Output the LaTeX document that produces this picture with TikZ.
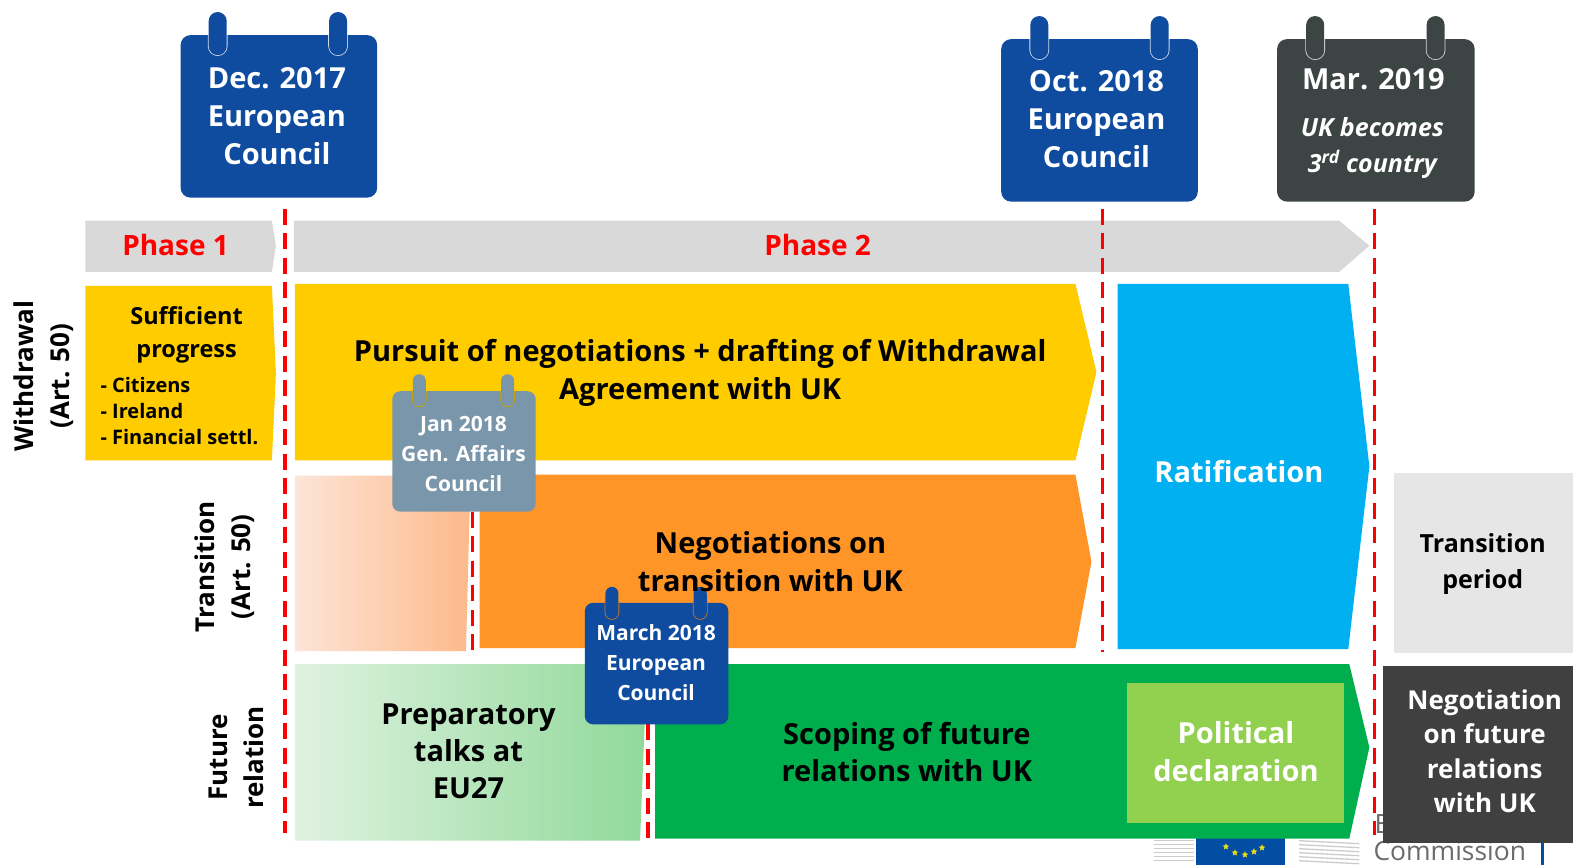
\documentclass[tikz,border=0pt]{standalone}
\usepackage{fontspec}
\setmainfont{Open Sans}
\usetikzlibrary{shapes.geometric}
\definecolor{ecblue}{HTML}{0F4C9F}
\definecolor{ecdark}{HTML}{3D4444}
\definecolor{ecslate}{HTML}{7A96AB}
\definecolor{ecyellow}{HTML}{FFCC00}
\definecolor{ecorange}{HTML}{FE9526}
\definecolor{ecsky}{HTML}{00B0F0}
\definecolor{ecgreen}{HTML}{00AE4D}
\definecolor{eclime}{HTML}{92D050}
\definecolor{ecgray}{HTML}{D9D9D9}
\definecolor{eclight}{HTML}{E6E6E6}
\definecolor{ecbox}{HTML}{404040}
\definecolor{ecred}{HTML}{FF0000}
\definecolor{gradgl}{HTML}{DFF2E0}
\definecolor{gradgr}{HTML}{90D99A}
\definecolor{gradol}{HTML}{FDE5D8}
\definecolor{grador}{HTML}{FDB98A}
\definecolor{logoflag}{HTML}{034EA2}
\definecolor{logotext}{HTML}{6B6B6B}
\newcommand{\fsz}[2]{\fontsize{#1}{#2}\selectfont\bfseries}
\tikzset{
  lab/.style={inner sep=0pt,align=center,text=black},
  wlab/.style={inner sep=0pt,align=center,text=white},
  deadline/.style={draw=ecred,line width=3.6pt,dash pattern=on 16pt off 8.5pt},
  staryel/.style={star,star points=5,star point ratio=2.2,fill=yellow!90!black,inner sep=0pt,minimum size=7pt},
}
% #1 colour #2 gap colour #3-#6 body #7 #8 ring centres #9 ring top
\newcommand{\calbox}[9]{%
  \fill[#1,rounded corners=\rad] (#3,#4) rectangle (#5,#6);
  \begin{scope}
    \clip (#3,#4) rectangle (#5,#6);
    \draw[#2,line width=1.6pt,rounded corners=\rw pt] ({#7-\rw},#9) rectangle ({#7+\rw},\rb);
    \draw[#2,line width=1.6pt,rounded corners=\rw pt] ({#8-\rw},#9) rectangle ({#8+\rw},\rb);
  \end{scope}
  \fill[#1,rounded corners=\rw pt] ({#7-\rw},#9) rectangle ({#7+\rw},\rb);
  \fill[#1,rounded corners=\rw pt] ({#8-\rw},#9) rectangle ({#8+\rw},\rb);
}
\begin{document}
\begin{tikzpicture}[x=1.0032pt,y=-1.0032pt]
\useasboundingbox (0,0) rectangle (1568,862);
\fill[white] (0,0) rectangle (1568,862);

% partial logo
\foreach \yy in {838,842,846,850,854,858}{
  \draw[gray!40,line width=1.3pt] (1150,\yy) -- (1190,\yy);
  \draw[gray!40,line width=1.3pt] (1295,\yy) -- (1355,\yy+3);
}
\fill[logoflag] (1192,830) rectangle (1281,862);
\foreach \xx/\yy in {1222/844,1231/850,1241/852,1250/849,1258/845}{
  \node[staryel] at (\xx,\yy) {};
}
\node[inner sep=0pt,anchor=base west,text=logotext,font=\fontsize{26.5}{30}\selectfont] (logoa) at (1370,831) {E};
\node[inner sep=0pt,anchor=base west,text=logotext,font=\fontsize{26.4}{30}\selectfont] (logob) at (1369,858) {Commission};
\fill[logoflag] (1536,838) rectangle (1539,862);

% phase bars
\fill[ecgray] (85,220) -- (271,220) -- (275,245) -- (271,271) -- (85,271) -- cycle;
\fill[ecgray] (293,220) -- (1335,220) -- (1365,245) -- (1335,271) -- (293,271) -- cycle;

% withdrawal row
\fill[ecyellow] (85,285) -- (271,285) -- (275,372) -- (271,459) -- (85,459) -- cycle;
\fill[ecyellow] (294,283) -- (1072,283) -- (1093,371) -- (1072,459) -- (294,459) -- cycle;

% transition row
\shade[left color=gradol,right color=grador] (294,474) -- (469,474) -- (464.5,649) -- (294,649) -- cycle;
\fill[ecorange] (478,473) -- (1072,473) -- (1088,560) -- (1072,646) -- (478,646) -- cycle;

% ratification
\fill[ecsky] (1114,283) -- (1344,283) -- (1365,465) -- (1344,647) -- (1114,647) -- cycle;
\fill[eclight] (1390,471) rectangle (1568,651);

% future relation row
\shade[left color=gradgl,right color=gradgr] (294,662) -- (645,662) -- (638,838) -- (294,838) -- cycle;
\fill[ecgreen] (653,662) -- (1345,662) -- (1365,745) -- (1345,836) -- (653,836) -- cycle;
\fill[eclime] (1123,681) rectangle (1340,820);

% deadlines
\draw[deadline] (284,208) -- (284,830);
\draw[deadline] (1099,208) -- (1099,650);
\draw[deadline] (1370,208) -- (1370,832);
\draw[deadline] (471,510) -- (471,650);
\draw[deadline] (646,722) -- (646,836);

\fill[ecbox] (1379,664) rectangle (1568,840);

% calendars
\def\rad{10pt}\def\rw{9}\def\rb{55}
\calbox{ecblue}{white!80!ecblue}{180}{35}{376}{197}{217}{337}{12}
\def\rb{59}
\calbox{ecblue}{white!80!ecblue}{998}{39}{1194}{201}{1036}{1156}{16}
\calbox{ecdark}{white!80!ecdark}{1273}{39}{1470}{201}{1311}{1431}{16}
\def\rad{8pt}\def\rw{6.5}\def\rb{405}
\calbox{ecslate}{ecyellow!80!black}{391}{390}{534}{510}{418}{506}{373}
\def\rb{617}
\calbox{ecblue}{ecorange!80!black}{583}{601}{726}{722}{610}{698}{585}

% texts
\node[wlab,font=\fsz{29}{38}] (tdec) at (276,115.5) {Dec. 2017\\European\\Council};
\node[wlab,font=\fsz{29}{38}] (toct) at (1093,119) {Oct. 2018\\European\\Council};
\node[wlab,font=\fsz{29}{38}] (tmar) at (1369,79) {Mar. 2019};
\node[wlab,font=\fsz{25}{36}\itshape] (tuk) at (1368,148) {UK becomes\\3\textsuperscript{rd} country};
\node[wlab,font=\fsz{21}{30}] (tjan) at (462,453) {Jan 2018\\Gen. Affairs\\Council};
\node[wlab,font=\fsz{21}{30}] (tmarch) at (654,661) {March 2018\\European\\Council};
\node[lab,text=ecred,font=\fsz{28}{34}] (p1) at (175,244.5) {Phase 1};
\node[lab,text=ecred,font=\fsz{28}{34}] (p2) at (815,244.5) {Phase 2};
\node[lab,rotate=90,font=\fsz{26}{36}] (r1) at (43.5,375) {Withdrawal\\(Art. 50)};
\node[lab,rotate=90,font=\fsz{26}{36}] (r2) at (224,565) {Transition\\(Art. 50)};
\node[lab,rotate=90,font=\fsz{26}{36}] (r3) at (236,755) {Future\\relation};
\node[lab,font=\fsz{23.5}{33}] (suff) at (186,334) {Sufficient\\progress};
\node[lab,align=left,anchor=west,font=\fontsize{20}{26}\selectfont\bfseries] (lst) at (100,410) {- Citizens\\- Ireland\\- Financial settl.};
\node[lab,font=\fsz{29}{38}] (pur) at (698,372) {Pursuit of negotiations + drafting of Withdrawal\\Agreement with UK};
\node[lab,font=\fsz{29}{38}] (neg) at (768,559.5) {Negotiations on\\transition with UK};
\node[wlab,font=\fsz{29}{38}] (rat) at (1235,470) {Ratification};
\node[lab,font=\fsz{25}{36}] (tp) at (1478,562) {Transition\\period};
\node[lab,font=\fsz{29}{37}] (pre) at (467,749) {Preparatory\\talks at\\EU27};
\node[lab,font=\fsz{29}{37}] (sco) at (904,750) {Scoping of future\\relations with UK};
\node[wlab,font=\fsz{29}{38}] (pol) at (1232,749) {Political\\declaration};
\node[wlab,font=\fsz{26}{34.5}] (fut) at (1480,749) {Negotiation\\on future\\relations\\with UK};
\end{tikzpicture}
\end{document}
